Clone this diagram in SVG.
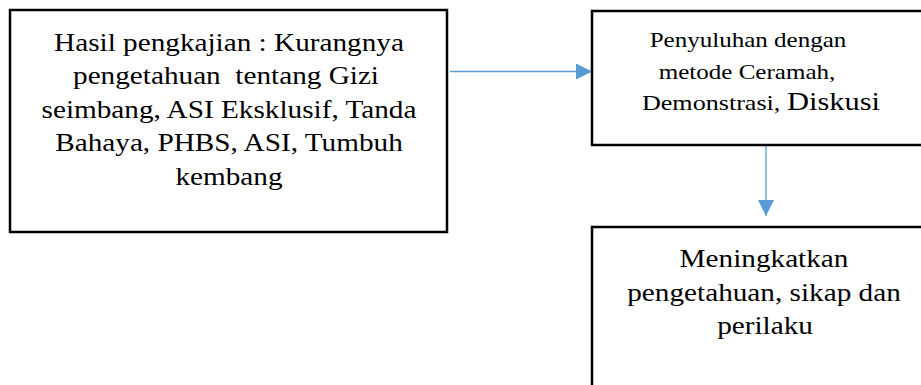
<svg xmlns="http://www.w3.org/2000/svg" width="921" height="385" viewBox="0 0 921 385">
<style>
.box{fill:#fff;stroke:#000;stroke-width:2.5}
.t{font-family:"Liberation Serif","Times New Roman",serif;fill:#000;text-anchor:middle}
.big{font-size:25px}
.small{font-size:21.4px}
.conn{stroke:#5B9BD5;stroke-width:1.3;fill:none}
</style>
<defs>
<marker id="ah" markerUnits="userSpaceOnUse" markerWidth="16" markerHeight="16" refX="16" refY="8" orient="auto">
<path d="M0,0 L16,8 L0,16 Z" fill="#5B9BD5"/>
</marker>
</defs>
<g id="connectors">
<line class="conn" x1="450" y1="71.5" x2="592" y2="71.5" marker-end="url(#ah)"/>
<line class="conn" x1="766" y1="146" x2="766" y2="216" marker-end="url(#ah)"/>
</g>
<g id="node-hasil">
<rect class="box" x="10" y="10" width="437" height="222"/>
<text class="t big" transform="translate(229,50.5) scale(1.17,1)">Hasil pengkajian : Kurangnya</text>
<text class="t big" transform="translate(226,84) scale(1.17,1)" xml:space="preserve">pengetahuan  tentang Gizi</text>
<text class="t big" transform="translate(229,117.5) scale(1.17,1)">seimbang, ASI Eksklusif, Tanda</text>
<text class="t big" transform="translate(229,151) scale(1.17,1)">Bahaya, PHBS, ASI, Tumbuh</text>
<text class="t big" transform="translate(229,184.5) scale(1.17,1)">kembang</text>
</g>
<g id="node-penyuluhan">
<rect class="box" x="592" y="11" width="340" height="134"/>
<text class="t small" transform="translate(748,47) scale(1.17,1)">Penyuluhan dengan</text>
<text class="t small" transform="translate(747,79) scale(1.17,1)">metode Ceramah,</text>
<text class="t small" transform="translate(761,110) scale(1.22,1)">Demonstrasi, <tspan class="big">Diskusi</tspan></text>
</g>
<g id="node-meningkatkan">
<rect class="box" x="592" y="227" width="340" height="200"/>
<text class="t big" transform="translate(764,267) scale(1.17,1)">Meningkatkan</text>
<text class="t big" transform="translate(764,300.5) scale(1.17,1)">pengetahuan, sikap dan</text>
<text class="t big" transform="translate(765,334) scale(1.17,1)">perilaku</text>
</g>
</svg>
